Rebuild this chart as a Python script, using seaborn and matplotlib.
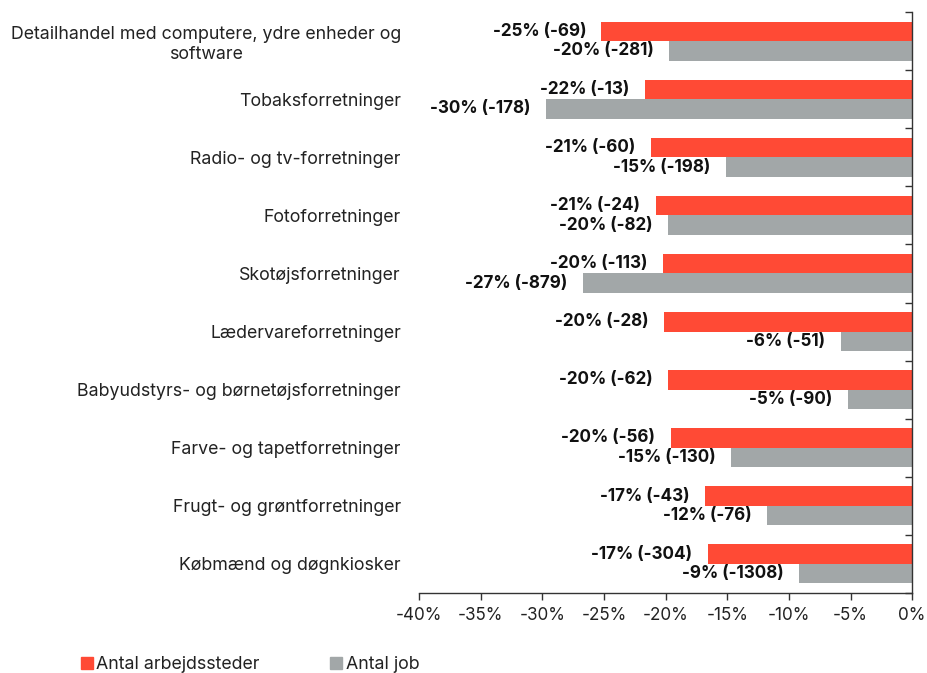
import matplotlib
matplotlib.use("Agg")
import matplotlib.pyplot as plt
import seaborn as sns
import pandas as pd
from matplotlib.ticker import FixedLocator, FuncFormatter
from matplotlib.lines import Line2D

categories = [
    "Detailhandel med computere, ydre enheder og\nsoftware",
    "Tobaksforretninger",
    "Radio- og tv-forretninger",
    "Fotoforretninger",
    "Skotøjsforretninger",
    "Lædervareforretninger",
    "Babyudstyrs- og børnetøjsforretninger",
    "Farve- og tapetforretninger",
    "Frugt- og grøntforretninger",
    "Købmænd og døgnkiosker",
]
series = ["Antal arbejdssteder", "Antal job"]
pct_arbejdssteder = [-25.2, -21.7, -21.2, -20.8, -20.2, -20.1, -19.8, -19.6, -16.8, -16.6]
pct_job = [-19.7, -29.7, -15.1, -19.8, -26.7, -5.8, -5.2, -14.7, -11.8, -9.2]
cnt_arbejdssteder = [-69, -13, -60, -24, -113, -28, -62, -56, -43, -304]
cnt_job = [-281, -178, -198, -82, -879, -51, -90, -130, -76, -1308]
xticks = [-40, -35, -30, -25, -20, -15, -10, -5, 0]

RED = "#ff4a35"
GRAY = "#a2a7a8"
AXC = "#333333"

sns.set_theme(style="white")
plt.rcParams["font.family"] = ["Inter", "DejaVu Sans"]

df = pd.DataFrame({
    "Kategori": categories * 2,
    "Serie": [series[0]] * len(categories) + [series[1]] * len(categories),
    "Pct": pct_arbejdssteder + pct_job,
})

fig = plt.figure(figsize=(9.27, 6.73), dpi=100)
ax = fig.add_axes([0.452, 0.119, 0.532, 0.863])
sns.barplot(data=df, y="Kategori", x="Pct", hue="Serie", hue_order=series,
            order=categories, palette=[RED, GRAY], width=0.67, orient="h",
            saturation=1, linewidth=0, legend=False, ax=ax)

ax.set_xlim(-40, 0)
ax.set_ylim(len(categories) - 0.5, -0.5)
ax.set_xlabel("")
ax.set_ylabel("")

ax.xaxis.set_major_locator(FixedLocator(xticks))
ax.xaxis.set_major_formatter(FuncFormatter(lambda v, p: f"{int(v)}%"))

for sp in ["left", "top"]:
    ax.spines[sp].set_visible(False)
for sp in ["right", "bottom"]:
    ax.spines[sp].set_visible(True)
    ax.spines[sp].set_color(AXC)
    ax.spines[sp].set_linewidth(1)

ax.tick_params(axis="x", direction="out", length=5, width=1, color=AXC,
               labelsize=12.3, labelcolor="#222222", pad=5, bottom=True)
ax.tick_params(axis="y", which="major", length=0, labelsize=12.8,
               labelcolor="#222222", pad=13)
ax.yaxis.set_minor_locator(FixedLocator([i - 0.5 for i in range(len(categories) + 1)]))
ax.tick_params(axis="y", which="minor", left=False, right=True, direction="in",
               length=5, width=1, color=AXC)
for lbl in ax.get_yticklabels():
    lbl.set_multialignment("center")

for container, cnts in zip(ax.containers, [cnt_arbejdssteder, cnt_job]):
    labels = [f"{v:.0f}% ({c})" for v, c in zip(container.datavalues, cnts)]
    ax.bar_label(container, labels=labels, padding=11, fontsize=12.3,
                 fontweight="bold", color="#111111")

handles = [Line2D([], [], marker="s", linestyle="none", markersize=9, color=c)
           for c in [RED, GRAY]]
fig.legend(handles, series, loc="lower left", bbox_to_anchor=(0.08, -0.008),
           ncol=2, frameon=False, handlelength=0.8, handletextpad=0.15,
           columnspacing=3.9, fontsize=12.8, borderaxespad=0, borderpad=0.3,
           labelcolor="#222222")

fig.savefig("out.png", dpi=100)
